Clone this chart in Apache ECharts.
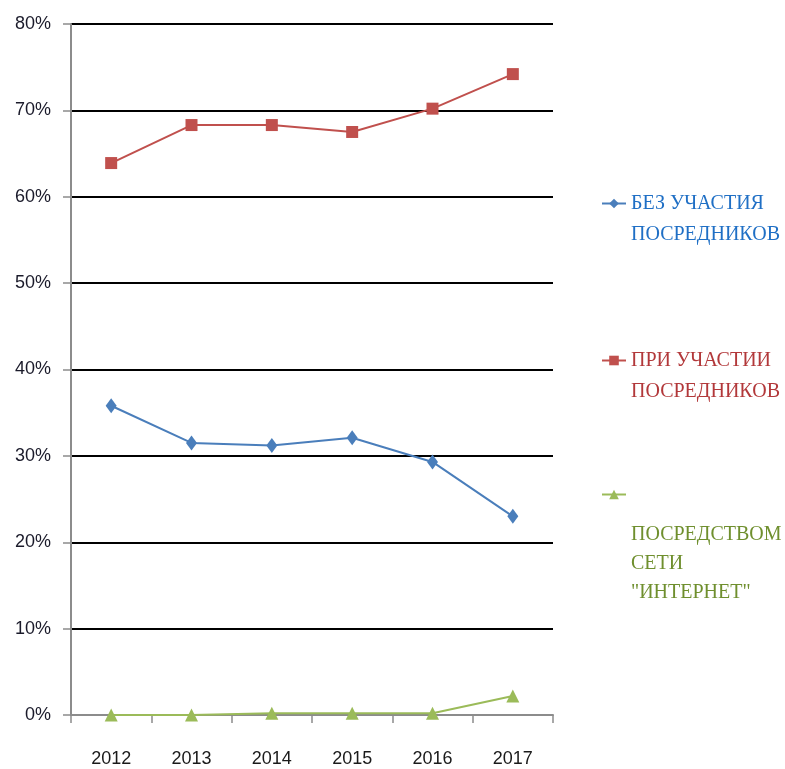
<!DOCTYPE html>
<html><head><meta charset="utf-8">
<script src="https://cdn.jsdelivr.net/npm/echarts@6/dist/echarts.min.js"></script>
<style>html,body{margin:0;padding:0;background:#fff}#c{width:785px;height:769px}</style>
</head><body><div id="c"></div>
<script>
var years = ['2012','2013','2014','2015','2016','2017'];
var yTicks = [0,10,20,30,40,50,60,70,80];
var nameWithout = 'БЕЗ УЧАСТИЯ ПОСРЕДНИКОВ';
var nameWith = 'ПРИ УЧАСТИИ ПОСРЕДНИКОВ';
var nameNet = 'ПОСРЕДСТВОМ СЕТИ "ИНТЕРНЕТ"';
var valuesWithout = [35.8, 31.5, 31.2, 32.1, 29.3, 23.0];
var valuesWith = [63.9, 68.3, 68.3, 67.5, 70.2, 74.2];
var valuesNet = [0, 0, 0.2, 0.2, 0.2, 2.2];

var legendLines = {};
legendLines[nameWithout] = '\nБЕЗ УЧАСТИЯ\nПОСРЕДНИКОВ';
legendLines[nameWith] = '\nПРИ УЧАСТИИ\nПОСРЕДНИКОВ';
legendLines[nameNet] = '{p| }\n{t|ПОСРЕДСТВОМ}\n{t|СЕТИ}\n{t|"ИНТЕРНЕТ"}';

var chart = echarts.init(document.getElementById('c'));
function mkLegend(name, top, color, lh) {
  return {
    data: [name], left: 596, top: top, orient: 'vertical',
    itemWidth: 24, itemHeight: 12, itemGap: 0,
    formatter: function (n) { return legendLines[n]; },
    textStyle: { color: color, fontFamily: 'Liberation Serif', fontSize: 20, lineHeight: lh,
      rich: {
        p: { fontSize: 20, lineHeight: 138, color: color, fontFamily: 'Liberation Serif' },
        t: { fontSize: 20, lineHeight: 29, color: color, fontFamily: 'Liberation Serif' }
      } },
    selectedMode: false
  };
}
chart.setOption({
  animation: false,
  backgroundColor: '#fff',
  grid: { left: 71, right: 232, top: 24, bottom: 54 },
  legend: [
    mkLegend(nameWithout, 152, '#1F6FC5', 31),
    mkLegend(nameWith, 309, '#B2383A', 31),
    mkLegend(nameNet, 377, '#6F8F2E', 29)
  ],
  xAxis: {
    type: 'category', data: years, boundaryGap: true,
    axisLine: { lineStyle: { color: '#8c8c8c', width: 2 } },
    axisTick: { show: true, length: 8, lineStyle: { color: '#8c8c8c', width: 1.5 } },
    axisLabel: { color: '#1a1a1a', fontFamily: 'Liberation Sans', fontSize: 18, margin: 35 }
  },
  yAxis: {
    type: 'value', min: 0, max: 80, interval: 10,
    axisLine: { show: true, lineStyle: { color: '#8c8c8c', width: 2 } },
    axisTick: { show: true, length: 8, lineStyle: { color: '#8c8c8c', width: 1.5 } },
    axisLabel: { color: '#1a1a2a', fontFamily: 'Liberation Sans', fontSize: 18, margin: 20,
      formatter: function (v) { return yTicks.indexOf(v) >= 0 ? v + '%' : ''; } },
    splitLine: { lineStyle: { color: '#000', width: 2 } }
  },
  series: [
    { name: nameWithout, type: 'line', data: valuesWithout, symbol: 'diamond', symbolSize: [11, 15],
      itemStyle: { color: '#4A7EBB' }, lineStyle: { color: '#4A7EBB', width: 2 } },
    { name: nameWith, type: 'line', data: valuesWith, symbol: 'rect', symbolSize: 12,
      itemStyle: { color: '#C0504D' }, lineStyle: { color: '#C0504D', width: 2 } },
    { name: nameNet, type: 'line', data: valuesNet, symbol: 'triangle', symbolSize: 13,
      itemStyle: { color: '#9BBB59' }, lineStyle: { color: '#9BBB59', width: 2 } }
  ]
});
</script></body></html>
